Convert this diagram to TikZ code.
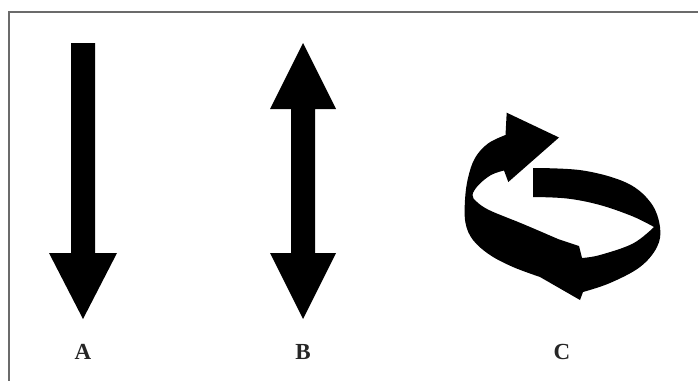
\documentclass[tikz,border=0pt]{standalone}
\usepackage{fontspec}
\setmainfont{Liberation Serif}
\begin{document}
\begin{tikzpicture}[x=1pt,y=-1pt,
  frame/.style={draw=black!58,line width=1.6pt},
  blk/.style={fill=black},
  lbl/.style={font=\fontsize{23}{23}\selectfont\bfseries,text=black!85,inner sep=0pt}]
\useasboundingbox (0,0) rectangle (698,380);
\fill[white] (0,0) rectangle (698,380);
% frame
\draw[frame] (698,12) -- (9,12) -- (9,381);
% arrow A
\fill[blk] (71,43) -- (95,43) -- (95,253) -- (117,253) -- (83,319) -- (49,253) -- (71,253) -- cycle;
% arrow B
\fill[blk] (303,43) -- (336,109) -- (315,109) -- (315,253) -- (336,253) -- (303,319) -- (270,253) -- (291,253) -- (291,109) -- (270,109) -- cycle;
% arrow C (rotation ribbon)
\fill[blk] (559,137.5) -- (508.3,182) -- (504,170.5)
  -- plot[smooth,tension=0.6] coordinates {(504,170.5) (491,175) (478.5,185) (472.5,195) (477,202) (490,210.5) (523,224) (558,239)}
  -- (579,246) -- (582,258)
  -- plot[smooth,tension=0.6] coordinates {(582,258) (600,255) (633,243.5) (654,227)}
  -- plot[smooth,tension=0.6] coordinates {(654,227) (633,216.5) (600,205) (567,198.5) (533,197)}
  -- (533,168)
  -- plot[smooth,tension=0.6] coordinates {(533,168) (583,170.5) (627,183) (651,203) (660,227) (657,247) (640,267) (610,283) (583,292)}
  -- (580,300) -- (540,277)
  -- plot[smooth,tension=0.6] coordinates {(540,277) (513,267) (490,255) (473,240) (465.5,223) (465,200) (468,178) (475,158) (488,143.5) (505.5,135)}
  -- (506.7,112.7) -- cycle;
% labels
\node[lbl] (la) at (83,352) {A};
\node[lbl] (lb) at (303,352) {B};
\node[lbl] (lc) at (562,352) {C};
\end{tikzpicture}
\end{document}
